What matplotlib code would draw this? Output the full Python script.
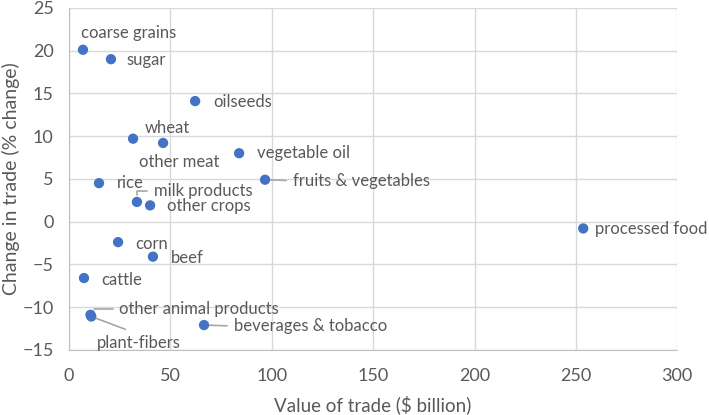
import matplotlib
matplotlib.use("Agg")
import matplotlib.pyplot as plt

plt.rcParams['font.family'] = ['Lato', 'DejaVu Sans']

# product groups, value of trade ($ billion) and change in trade (%)
products = ['coarse grains', 'sugar', 'oilseeds', 'wheat', 'other meat',
            'vegetable oil', 'fruits & vegetables', 'rice', 'milk products',
            'other crops', 'processed food', 'corn', 'beef', 'cattle',
            'other animal products', 'plant-fibers', 'beverages & tobacco']
trade_value = [6.9, 20.7, 62.2, 31.6, 46.4, 83.9, 96.7, 14.8, 33.5,
               40.0, 253.6, 24.2, 41.4, 7.4, 10.6, 11.0, 66.6]
trade_change = [20.1, 19.0, 14.1, 9.7, 9.2, 8.0, 4.9, 4.5, 2.3,
                1.9, -0.8, -2.4, -4.1, -6.6, -10.9, -11.1, -12.1]

# label offsets (pixels) from each point
label_dx = [-2, 16, 18, 12, -24, 18, 28, 18, 17, 17, 12, 17, 18, 17, 29, 6, 30]
label_dy = [17, -1, -1, 11, -19, 0, -1, 0, 11, -1, -1, -2, -1, -2, 6, -26, -1]
leaders = {'fruits & vegetables': 'straight', 'beverages & tobacco': 'straight',
           'milk products': 'bracket', 'other animal products': 'bracket',
           'plant-fibers': 'down'}

text_col = '#595959'
fig = plt.figure(figsize=(7.09, 4.15), dpi=100)
ax = fig.add_axes([0.0973, 0.157, 0.858, 0.824])

ax.scatter(trade_value, trade_change, s=55, color='#4472C4', zorder=3,
           edgecolors='none')

for name, x, y, dx, dy in zip(products, trade_value, trade_change, label_dx, label_dy):
    kind = leaders.get(name)
    props = None
    if kind == 'straight':
        props = dict(arrowstyle='-', color='#A6A6A6', lw=1.2, relpos=(0, 0.5),
                     shrinkA=3, shrinkB=4)
    elif kind == 'bracket':
        props = dict(arrowstyle='-', color='#A6A6A6', lw=1.2, relpos=(0, 0.5),
                     connectionstyle='angle,angleA=0,angleB=90,rad=0',
                     shrinkA=3, shrinkB=5)
    elif kind == 'down':
        props = dict(arrowstyle='-', color='#A6A6A6', lw=1.2, relpos=(0.5, 1),
                     shrinkA=5, shrinkB=4)
    ax.annotate(name, (x, y), xytext=(dx, dy), textcoords='offset pixels',
                ha='left', va='center', fontsize=12, color=text_col,
                arrowprops=props, zorder=4)

ax.set_xlim(0, 300)
ax.set_ylim(-15, 25)
ax.set_xticks(range(0, 301, 50))
ax.set_yticks(range(-15, 26, 5))
ax.grid(True, color='#D9D9D9', lw=1)
ax.set_axisbelow(True)
for side in ['top', 'right']:
    ax.spines[side].set_visible(False)
for side in ['left', 'bottom']:
    ax.spines[side].set_color('#BFBFBF')
ax.tick_params(length=0, labelsize=13, labelcolor=text_col)
ax.tick_params(axis='x', pad=13)
ax.tick_params(axis='y', pad=11)
ax.set_xlabel('Value of trade ($ billion)', fontsize=13.5, color=text_col, labelpad=8)
ax.set_ylabel('Change in trade (% change)', fontsize=14, color=text_col, labelpad=2)

fig.savefig('out.png', dpi=100)
